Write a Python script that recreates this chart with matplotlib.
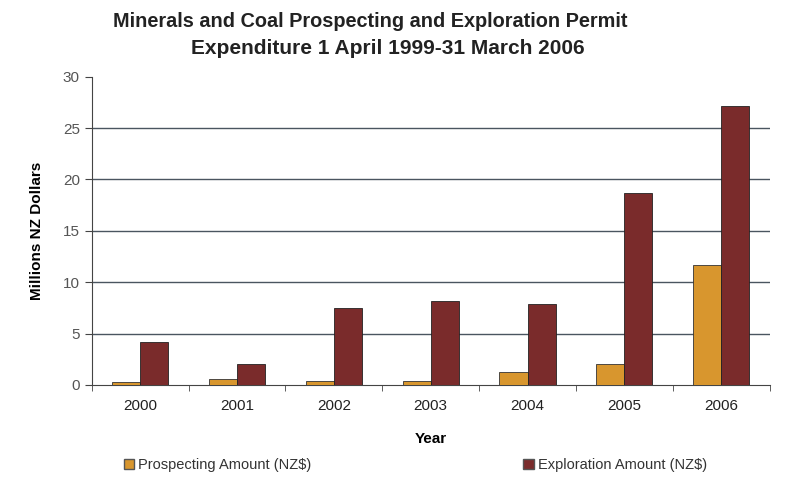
import matplotlib.pyplot as plt
import numpy as np
from matplotlib.patches import Patch

years = ['2000', '2001', '2002', '2003', '2004', '2005', '2006']
prospecting = [0.3, 0.6, 0.4, 0.4, 1.3, 2.05, 11.7]
exploration = [4.2, 2.05, 7.5, 8.2, 7.9, 18.7, 27.2]

c_pros = '#D8962E'
c_expl = '#7A2B2B'

plt.rcParams['font.family'] = ['Liberation Sans', 'DejaVu Sans']

fig = plt.figure(figsize=(7.91, 4.86), dpi=100)
ax = fig.add_axes([0.116, 0.208, 0.857, 0.634])

x = np.arange(len(years))
w = 0.29
ax.bar(x - w / 2, prospecting, w, color=c_pros, edgecolor='#333333', linewidth=0.6, zorder=3)
ax.bar(x + w / 2, exploration, w, color=c_expl, edgecolor='#222222', linewidth=0.6, zorder=3)

ax.set_xlim(-0.5, len(years) - 0.5)
ax.set_ylim(0, 30)
ax.set_yticks(range(0, 31, 5))
ax.set_xticks(x)
ax.set_xticklabels(years)
ax.set_xticks(np.arange(-0.5, len(years), 1), minor=True)
ax.tick_params(axis='x', which='major', length=0, pad=10, labelsize=11, labelcolor='#222222')
ax.tick_params(axis='x', which='minor', length=4, color='#444444')
ax.tick_params(axis='y', length=5, color='#444444', labelsize=11, labelcolor='#555555')

for v in range(5, 30, 5):
    ax.axhline(v, color='#4a5560', linewidth=1.0, zorder=1)

for s in ['top', 'right']:
    ax.spines[s].set_visible(False)
ax.spines['left'].set_color('#444444')
ax.spines['bottom'].set_color('#444444')

ax.set_xlabel('Year', fontsize=11, fontweight='bold', labelpad=14)
ax.set_ylabel('Millions NZ Dollars', fontsize=11, fontweight='bold', labelpad=14)

fig.text(0.468, 0.955, 'Minerals and Coal Prospecting and Exploration Permit',
         ha='center', va='center', fontsize=14.3, fontweight='bold', color='#222222')
fig.text(0.49, 0.901, 'Expenditure 1 April 1999-31 March 2006',
         ha='center', va='center', fontsize=15, fontweight='bold', color='#222222')

l1 = fig.legend(handles=[Patch(facecolor=c_pros, edgecolor='#555555', label='Prospecting Amount (NZ$)')],
                loc='center left', bbox_to_anchor=(0.14, 0.043), frameon=False, fontsize=10.5,
                handlelength=0.7, handleheight=0.7, handletextpad=0.3)
l2 = fig.legend(handles=[Patch(facecolor=c_expl, edgecolor='#555555', label='Exploration Amount (NZ$)')],
                loc='center left', bbox_to_anchor=(0.645, 0.043), frameon=False, fontsize=10.5,
                handlelength=0.7, handleheight=0.7, handletextpad=0.3)
for lg in (l1, l2):
    for t in lg.get_texts():
        t.set_color('#333333')

fig.savefig('out.png', dpi=100)
